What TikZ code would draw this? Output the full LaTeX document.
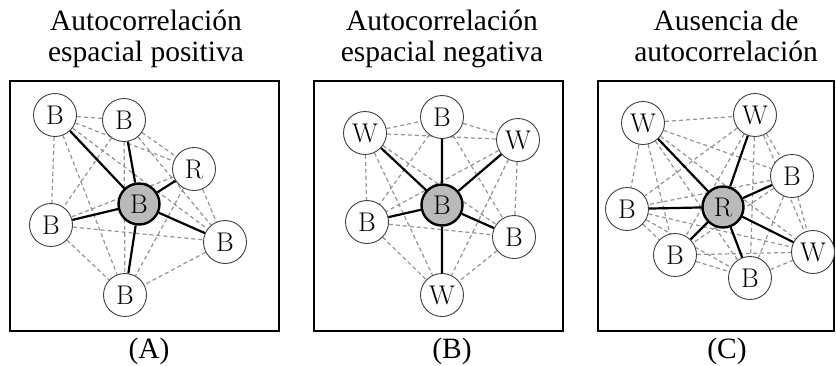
\documentclass[tikz,border=0pt]{standalone}
\usepackage{fontspec}
\newfontfamily\titlefont{Liberation Serif}
\usetikzlibrary{backgrounds}

\tikzset{
  site/.style={circle, draw=black!75, line width=0.9pt, fill=white, minimum size=43pt, inner sep=0pt, font=\fontsize{27}{27}\selectfont},
  hub/.style={site, draw=black, fill=black!27, line width=2.4pt, minimum size=41pt},
  mesh/.style={draw=black!42, dash pattern=on 4pt off 3pt, line width=1.2pt},
  spoke/.style={line width=2.2pt},
  panel/.style={line width=2.5pt},
  caption/.style={font=\titlefont\fontsize{29.5}{31}\selectfont, align=center, inner sep=0pt}
}

\begin{document}
\begin{tikzpicture}[x=1pt,y=-1pt]
\useasboundingbox (0,0) rectangle (836,365);

% titles
\node[caption, anchor=north] (ta) at (146,10) {Autocorrelación\\espacial positiva};
\node[caption, anchor=north] (tb) at (442,10) {Autocorrelación\\espacial negativa};
\node[caption, anchor=north] (tc) at (726,10) {Ausencia de\\autocorrelación};

% frames
\draw[panel] (10,81) rectangle (279,331);
\draw[panel] (314,81) rectangle (563,331);
\draw[panel] (598,81) rectangle (834,331);

% panel A
\node[hub] (ac) at (139,204) {B};
\node[site] (a1) at (55,115) {B};
\node[site] (a2) at (124,120) {B};
\node[site] (a3) at (194,169) {R};
\node[site] (a4) at (51,225) {B};
\node[site] (a5) at (225,242) {B};
\node[site] (a6) at (125,295) {B};

% panel B
\node[hub] (bc) at (442,205) {B};
\node[site] (b1) at (365,133) {W};
\node[site] (b2) at (442,117) {B};
\node[site] (b3) at (518,140) {W};
\node[site] (b4) at (367,222) {B};
\node[site] (b5) at (514,237) {B};
\node[site] (b6) at (442,295) {W};

% panel C
\node[hub] (cc) at (723,207) {R};
\node[site] (c1) at (643,123) {W};
\node[site] (c2) at (755,115) {W};
\node[site] (c3) at (792,176) {B};
\node[site] (c4) at (627,209) {B};
\node[site] (c5) at (675,255) {B};
\node[site] (c6) at (750,278) {B};
\node[site] (c7) at (813,252) {W};

\begin{scope}[on background layer]
\draw[mesh] (a1) -- (a2) (a1) -- (a3) (a1) -- (a4) (a1) -- (a5) (a1) -- (a6)
  (a2) -- (a3) (a2) -- (a4) (a2) -- (a5) (a2) -- (a6)
  (a3) -- (a4) (a3) -- (a5) (a3) -- (a6)
  (a4) -- (a5) (a4) -- (a6) (a5) -- (a6);
\draw[mesh] (b1) -- (b2) (b1) -- (b3) (b1) -- (b4) (b1) -- (b5) (b1) -- (b6)
  (b2) -- (b3) (b2) -- (b4) (b2) -- (b5) (b2) -- (b6)
  (b3) -- (b4) (b3) -- (b5) (b3) -- (b6)
  (b4) -- (b5) (b4) -- (b6) (b5) -- (b6);
\draw[mesh] (c1) -- (c2) (c1) -- (c3) (c1) -- (c4) (c1) -- (c5) (c1) -- (c6) (c1) -- (c7)
  (c2) -- (c3) (c2) -- (c4) (c2) -- (c5) (c2) -- (c6) (c2) -- (c7)
  (c3) -- (c4) (c3) -- (c5) (c3) -- (c6) (c3) -- (c7)
  (c4) -- (c5) (c4) -- (c6) (c4) -- (c7)
  (c5) -- (c6) (c5) -- (c7) (c6) -- (c7);
\end{scope}

% spokes
\draw[spoke] (ac) -- (a1) (ac) -- (a2) (ac) -- (a3) (ac) -- (a4) (ac) -- (a5) (ac) -- (a6);
\draw[spoke] (bc) -- (b1) (bc) -- (b2) (bc) -- (b3) (bc) -- (b4) (bc) -- (b5) (bc) -- (b6);
\draw[spoke] (cc) -- (c1) (cc) -- (c2) (cc) -- (c3) (cc) -- (c4) (cc) -- (c5) (cc) -- (c6) (cc) -- (c7);

% labels
\node[caption, anchor=base] (la) at (149,358) {(A)};
\node[caption, anchor=base] (lb) at (452,358) {(B)};
\node[caption, anchor=base] (lc) at (727,358) {(C)};
\end{tikzpicture}
\end{document}
